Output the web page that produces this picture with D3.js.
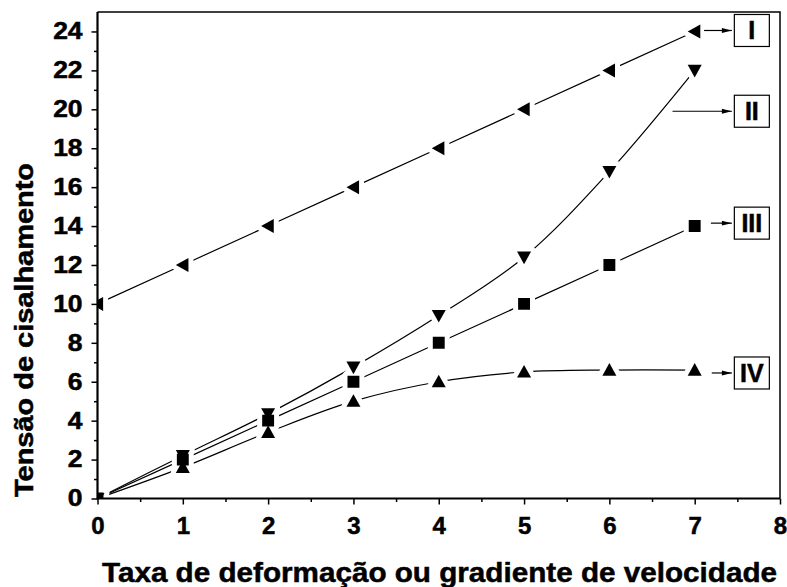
<!DOCTYPE html>
<html>
<head>
    <title>Tensão de cisalhamento</title>
    <script src="https://d3js.org/d3.v7.min.js"></script>
    <style>
        body { margin: 0; background: #fff; }
        text { font-family: "Liberation Sans", Arial, sans-serif; font-weight: bold; fill: #000; stroke: #000; stroke-width: 0.5px; }
    </style>
</head>
<body>
<script>
    // dados
    const taxa = [0, 1, 2, 3, 4, 5, 6, 7];
    const serieI = [10, 12, 14, 16, 18, 20, 22, 24];
    const serieII = [0, 2.2, 4.35, 6.75, 9.4, 12.4, 16.8, 22];
    const serieIII = [0, 2, 4, 6, 8, 10, 12, 14];
    const serieIV = [0, 1.6, 3.4, 5, 6, 6.5, 6.6, 6.6];
    const xTicks = [0, 1, 2, 3, 4, 5, 6, 7, 8];
    const yTicks = [0, 2, 4, 6, 8, 10, 12, 14, 16, 18, 20, 22, 24];
    const rotulos = ["I", "II", "III", "IV"];
    const rotuloY = [24.05, 19.9, 14.15, 6.45];
    const setaInicio = [7.11, 6.74, 7.19, 7.2];

    const width = 787, height = 587;
    const x = d3.scaleLinear().domain([0, 8]).range([97.5, 780]);
    const y = d3.scaleLinear().domain([0, 25]).range([498.5, 12]);

    const svg = d3.select("body").append("svg")
        .attr("width", width)
        .attr("height", height);

    const defs = svg.append("defs");
    defs.append("clipPath").attr("id", "area")
        .append("rect")
        .attr("x", x(0)).attr("y", y(25))
        .attr("width", x(8) - x(0)).attr("height", y(0) - y(25));
    defs.append("marker")
        .attr("id", "seta")
        .attr("viewBox", "0 0 10 6")
        .attr("refX", 10).attr("refY", 3)
        .attr("markerWidth", 11).attr("markerHeight", 6)
        .attr("markerUnits", "userSpaceOnUse")
        .attr("orient", "auto")
        .append("path").attr("d", "M0,0.6 L10,3 L0,5.4 Z").attr("fill", "#000");

    const series = [
        { nome: "I", valores: serieI, simbolo: "esq", curva: d3.curveLinear },
        { nome: "II", valores: serieII, simbolo: "baixo", curva: d3.curveCatmullRom },
        { nome: "III", valores: serieIII, simbolo: "quad", curva: d3.curveLinear },
        { nome: "IV", valores: serieIV, simbolo: "cima", curva: d3.curveCatmullRom }
    ];

    function forma(tipo, s) {
        const h = s * 0.5;
        if (tipo === "quad") return `M${-h * 0.85},${-h * 0.85}h${s * 0.85}v${s * 0.85}h${-s * 0.85}Z`;
        if (tipo === "cima") return `M0,${-h}L${h},${h * 0.8}L${-h},${h * 0.8}Z`;
        if (tipo === "baixo") return `M0,${h}L${h},${-h * 0.8}L${-h},${-h * 0.8}Z`;
        return `M${-h},0L${h * 0.8},${-h}L${h * 0.8},${h}Z`;
    }

    const plot = svg.append("g").attr("clip-path", "url(#area)");

    series.forEach(s => {
        const linha = d3.line()
            .x((d, i) => x(taxa[i]))
            .y(d => y(d))
            .curve(s.curva);
        plot.append("path")
            .datum(s.valores)
            .attr("d", linha)
            .attr("fill", "none")
            .attr("stroke", "#000")
            .attr("stroke-width", 1.2);
    });

    // fundo branco em volta dos símbolos (lacuna nas linhas)
    series.forEach(s => {
        plot.selectAll(null)
            .data(s.valores)
            .join("path")
            .attr("transform", (d, i) => `translate(${x(taxa[i])},${y(d)})`)
            .attr("d", forma(s.simbolo, 14))
            .attr("fill", "#fff")
            .attr("stroke", "#fff")
            .attr("stroke-width", 10)
            .attr("stroke-linejoin", "round");
    });
    series.forEach(s => {
        plot.selectAll(null)
            .data(s.valores)
            .join("path")
            .attr("transform", (d, i) => `translate(${x(taxa[i])},${y(d)})`)
            .attr("d", forma(s.simbolo, 14))
            .attr("fill", "#000");
    });

    // eixos
    const xMinor = d3.range(0.5, 8, 1);
    const yMinor = d3.range(1, 25, 2);

    const gx = svg.append("g").attr("transform", `translate(0,${y(0)})`);
    gx.call(d3.axisBottom(x).tickValues(xTicks).tickSize(6).tickPadding(12).tickFormat(d3.format("d")));
    gx.append("g").call(d3.axisBottom(x).tickValues(xMinor).tickSize(3.5).tickFormat(""));
    gx.selectAll(".domain").remove();
    gx.selectAll("line").attr("stroke-width", 1.5);
    gx.selectAll("text").attr("font-size", 24).attr("dy", "0.72em")
        .style("font-family", "'Liberation Sans', Arial, sans-serif").style("font-weight", "bold");

    const gy = svg.append("g").attr("transform", `translate(${x(0)},0)`);
    gy.call(d3.axisLeft(y).tickValues(yTicks).tickSize(6).tickPadding(7).tickFormat(d3.format("d")));
    gy.append("g").call(d3.axisLeft(y).tickValues(yMinor).tickSize(3.5).tickFormat(""));
    gy.selectAll(".domain").remove();
    gy.selectAll("line").attr("stroke-width", 1.5);
    gy.selectAll("text").attr("font-size", 23)
        .attr("transform", "scale(1.15,1)")
        .style("font-family", "'Liberation Sans', Arial, sans-serif").style("font-weight", "bold");

    // moldura
    svg.append("path")
        .attr("d", `M${x(0)},${y(25)}H${x(8)}V${y(0)}`)
        .attr("fill", "none").attr("stroke", "#000").attr("stroke-width", 1.5);
    svg.append("path")
        .attr("d", `M${x(0)},${y(25)}V${y(0)}H${x(8)}`)
        .attr("fill", "none").attr("stroke", "#000").attr("stroke-width", 2.2);

    // rótulos das curvas
    rotulos.forEach((r, i) => {
        const cy = y(rotuloY[i]);
        const cx = x(7.67);
        svg.append("line")
            .attr("x1", x(setaInicio[i])).attr("y1", cy)
            .attr("x2", cx - 20).attr("y2", cy)
            .attr("stroke", "#000").attr("stroke-width", 1.2)
            .attr("marker-end", "url(#seta)");
        svg.append("rect")
            .attr("x", cx - 17.5).attr("y", cy - 16)
            .attr("width", 35).attr("height", 32)
            .attr("fill", "#fff").attr("stroke", "#000").attr("stroke-width", 1.2);
        svg.append("text")
            .attr("x", cx).attr("y", cy)
            .attr("text-anchor", "middle").attr("dy", "0.36em")
            .attr("font-size", 25)
            .text(r);
    });

    // títulos
    svg.append("text")
        .attr("x", 102).attr("y", 582)
        .attr("font-size", 28)
        .attr("textLength", 675)
        .attr("lengthAdjust", "spacingAndGlyphs")
        .text("Taxa de deformação ou gradiente de velocidade");
    svg.append("text")
        .attr("transform", "translate(33,497)rotate(-90)")
        .attr("font-size", 25)
        .attr("textLength", 334)
        .attr("lengthAdjust", "spacingAndGlyphs")
        .text("Tensão de cisalhamento");
</script>
</body>
</html>
